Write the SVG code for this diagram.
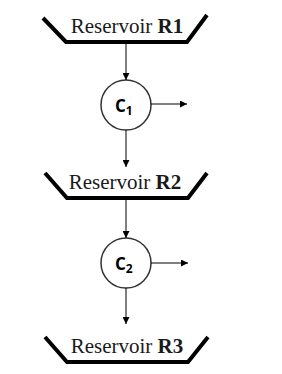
<svg xmlns="http://www.w3.org/2000/svg" width="282" height="374" viewBox="0 0 282 374">
<style>
.tray{fill:none;stroke:#000;stroke-width:4;stroke-linejoin:miter}
.lbl{font-family:"Liberation Serif",serif;font-size:21px;fill:#1a1a1a}
.b{font-weight:bold}
.node{fill:#fff;stroke:#333;stroke-width:1.5}
.cl{font-family:"Open Sans","Liberation Sans",Arial,sans-serif;font-weight:bold;font-size:17px;fill:#000}
.sub{font-size:12px}
.conn line{stroke:#000;stroke-width:1}
</style>
<defs>
<marker id="ah" viewBox="0 0 10 10" refX="10" refY="5" markerWidth="7" markerHeight="7" markerUnits="userSpaceOnUse" orient="auto">
<path d="M0,0 L10,5 L0,10 z" fill="#000"/>
</marker>
</defs>
<rect width="282" height="374" fill="#fff"/>
<g id="R1">
<polyline class="tray" points="43,18 66,42 187,42 207,15"/>
<text class="lbl" x="127" y="33" text-anchor="middle">Reservoir <tspan class="b">R1</tspan></text>
</g>
<g id="R2">
<polyline class="tray" points="45,173 67,198 188,198 207,173"/>
<text class="lbl" x="125" y="189" text-anchor="middle">Reservoir <tspan class="b">R2</tspan></text>
</g>
<g id="R3">
<polyline class="tray" points="45,337 67,362 188,362 208,337"/>
<text class="lbl" x="127" y="353" text-anchor="middle">Reservoir <tspan class="b">R3</tspan></text>
</g>
<g id="C1">
<circle class="node" cx="126" cy="105" r="25"/>
<text class="cl" x="115" y="112">C<tspan class="sub" dy="3">1</tspan></text>
</g>
<g id="C2">
<circle class="node" cx="126" cy="263" r="25"/>
<text class="cl" x="115" y="270">C<tspan class="sub" dy="3">2</tspan></text>
</g>
<g class="conn">
<line x1="126" y1="44" x2="126" y2="80" marker-end="url(#ah)"/>
<line x1="151" y1="104" x2="187" y2="104" marker-end="url(#ah)"/>
<line x1="126" y1="130" x2="126" y2="167" marker-end="url(#ah)"/>
<line x1="126" y1="200" x2="126" y2="238" marker-end="url(#ah)"/>
<line x1="151" y1="263" x2="188" y2="263" marker-end="url(#ah)"/>
<line x1="126" y1="288" x2="126" y2="324" marker-end="url(#ah)"/>
</g>
</svg>
